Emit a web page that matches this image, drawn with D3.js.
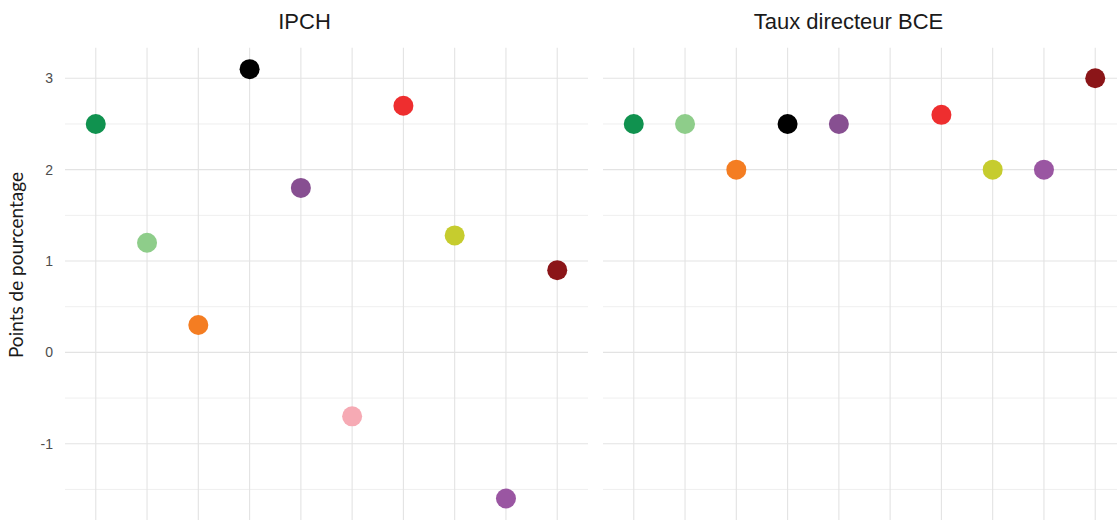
<!DOCTYPE html>
<html>
<head>
<meta charset="utf-8">
<script src="https://cdn.jsdelivr.net/npm/d3@7"></script>
<style>
  html, body { margin: 0; padding: 0; background: #fff; }
  svg { display: block; }
</style>
</head>
<body>
<svg id="chart" width="1117" height="522"></svg>
<script>
// ---- data ----
const categories = ["s1", "s2", "s3", "s4", "s5", "s6", "s7", "s8", "s9", "s10"];
const colors = ["#10924f", "#8ecd8a", "#f47d22", "#000000", "#874f91", "#f6aab4", "#ee2e2f", "#c6cc2e", "#9a56a2", "#8b1518"];
const panelTitles = ["IPCH", "Taux directeur BCE"];
const ipch = [2.5, 1.2, 0.3, 3.1, 1.8, -0.7, 2.7, 1.28, -1.6, 0.9];
const tauxBCE = [2.5, 2.5, 2.0, 2.5, 2.5, null, 2.6, 2.0, 2.0, 3.0];
const yTicks = [-1, 0, 1, 2, 3];
const yMinor = [-1.5, -0.5, 0.5, 1.5, 2.5];
const yLabel = "Points de pourcentage";

// ---- layout ----
const svg = d3.select("#chart");
const W = 1117, H = 522;
const plotTop = 47.7, plotBottom = 520;
const panels = [
  { x0: 65, x1: 588, titleShift: -22, title: panelTitles[0], values: ipch },
  { x0: 603, x1: 1126, titleShift: -16, title: panelTitles[1], values: tauxBCE }
];

const allVals = ipch.concat(tauxBCE).filter(v => v != null);
const ext = d3.extent(allVals);
const pad = (ext[1] - ext[0]) * 0.05;
const y = d3.scaleLinear().domain([ext[0] - pad, ext[1] + pad]).range([plotBottom, plotTop]);

svg.append("defs").append("clipPath").attr("id", "clipAll")
  .append("rect").attr("x", 0).attr("y", 0).attr("width", W).attr("height", H);

panels.forEach((p, i) => {
  const x = d3.scalePoint().domain(categories).range([p.x0, p.x1]).padding(0.6);
  const g = svg.append("g").attr("clip-path", "url(#clipAll)");

  // minor horizontal gridlines
  g.selectAll(".minor").data(yMinor).enter().append("line")
    .attr("x1", p.x0).attr("x2", p.x1)
    .attr("y1", d => y(d)).attr("y2", d => y(d))
    .attr("stroke", "#efefef").attr("stroke-width", 1);

  // major horizontal gridlines
  g.selectAll(".major").data(yTicks).enter().append("line")
    .attr("x1", p.x0).attr("x2", p.x1)
    .attr("y1", d => y(d)).attr("y2", d => y(d))
    .attr("stroke", "#e3e3e3").attr("stroke-width", 1.1);

  // vertical gridlines
  g.selectAll(".vgrid").data(categories).enter().append("line")
    .attr("x1", d => x(d)).attr("x2", d => x(d))
    .attr("y1", plotTop).attr("y2", plotBottom)
    .attr("stroke", "#e3e3e3").attr("stroke-width", 1.1);

  // points
  const pts = categories.map((c, k) => ({ c, v: p.values[k], col: colors[k] })).filter(d => d.v != null);
  g.selectAll(".pt").data(pts).enter().append("circle")
    .attr("cx", d => x(d.c)).attr("cy", d => y(d.v))
    .attr("r", 10).attr("fill", d => d.col);

  // title
  svg.append("text")
    .attr("x", (p.x0 + p.x1) / 2 + p.titleShift).attr("y", 29)
    .attr("text-anchor", "middle")
    .attr("font-family", "Liberation Sans, Arial, sans-serif")
    .attr("font-size", 22).attr("fill", "#1a1a1a")
    .text(p.title);
});

// y axis tick labels (left panel only)
const yAxis = d3.axisLeft(y).tickValues(yTicks).tickSize(0).tickPadding(0).tickFormat(d => String(d));
const ya = svg.append("g").attr("transform", "translate(53,0)").call(yAxis);
ya.select(".domain").remove();
ya.selectAll("text")
  .attr("font-family", "Liberation Sans, Arial, sans-serif").attr("font-size", 14).attr("fill", "#4d4d4d");

// y title
svg.append("text")
  .attr("transform", `translate(23,265) rotate(-90)`)
  .attr("text-anchor", "middle")
  .attr("font-family", "Lato, sans-serif")
  .attr("font-size", 19).attr("fill", "#1a1a1a")
  .text(yLabel);
</script>
</body>
</html>
